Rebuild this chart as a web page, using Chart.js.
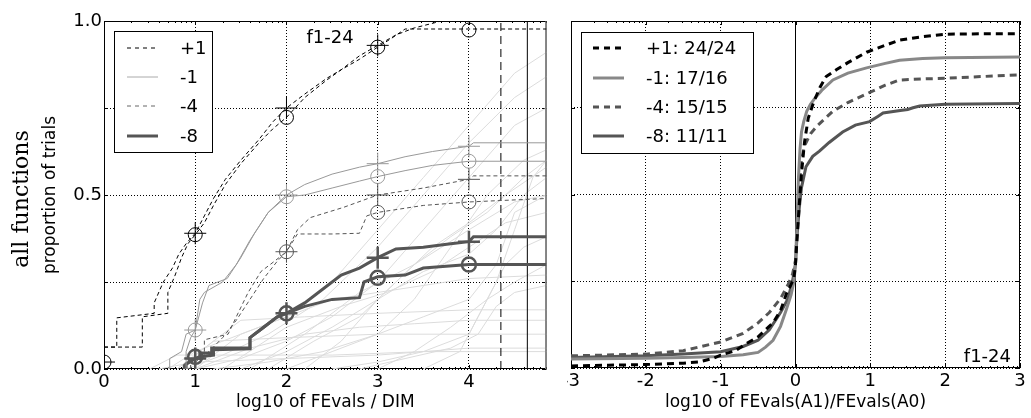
<!DOCTYPE html>
<html>
<head>
<meta charset="utf-8">
<script src="https://cdn.jsdelivr.net/npm/chart.js@4.4.0/dist/chart.umd.min.js"></script>
<title>ECDF f1-24</title>
<style>
body { margin:0; background:#fff; }
#left { position:absolute; left:0; top:0; }
#right { position:absolute; left:567px; top:0; }
</style>
</head>
<body>
<canvas id="left" width="560" height="418"></canvas>
<canvas id="right" width="464" height="418"></canvas>
<script>
// ---- left panel: ECDF of run lengths, two algorithms per target ----
var markX = [0, 1, 2, 3, 4];

var p1oX = [0, 0.42, 0.42, 0.7, 0.7, 0.78, 0.85, 0.92, 1, 1.1, 1.2, 1.33, 1.5, 1.7, 1.85, 2, 2.2, 2.44, 2.6, 2.8, 3, 3.15, 3.3, 4.85];
var p1oY = [0.063, 0.063, 0.15, 0.16, 0.22, 0.27, 0.32, 0.36, 0.386, 0.42, 0.47, 0.53, 0.59, 0.65, 0.69, 0.723, 0.78, 0.83, 0.86, 0.89, 0.925, 0.95, 0.977, 0.977];
var p1pX = [0, 0.14, 0.14, 0.55, 0.55, 0.65, 0.75, 0.82, 0.9, 1, 1.1, 1.2, 1.33, 1.5, 1.7, 1.85, 2, 2.2, 2.44, 2.6, 2.8, 3, 3.2, 3.4, 3.7, 4.85];
var p1pY = [0.063, 0.063, 0.147, 0.16, 0.19, 0.25, 0.29, 0.33, 0.36, 0.39, 0.44, 0.49, 0.545, 0.6, 0.66, 0.71, 0.75, 0.79, 0.835, 0.86, 0.9, 0.93, 0.96, 0.98, 1.0, 1.0];

var m1oX = [0.9, 0.9, 0.95, 1, 1.08, 1.15, 1.35, 1.5, 1.65, 1.8, 2, 2.2, 2.5, 2.8, 3, 3.3, 3.6, 4, 4.85];
var m1oY = [0, 0.05, 0.09, 0.112, 0.19, 0.24, 0.26, 0.32, 0.39, 0.45, 0.495, 0.5, 0.52, 0.54, 0.553, 0.57, 0.585, 0.597, 0.597];
var m1pX = [0.72, 0.72, 0.85, 0.9, 1, 1.05, 1.1, 1.3, 1.45, 1.6, 1.8, 2, 2.2, 2.5, 2.8, 3, 3.3, 3.6, 4, 4.05, 4.85];
var m1pY = [0, 0.03, 0.05, 0.1, 0.112, 0.2, 0.22, 0.25, 0.3, 0.37, 0.45, 0.5, 0.53, 0.56, 0.58, 0.59, 0.61, 0.625, 0.64, 0.65, 0.65];

var m4oX = [1.0, 1.0, 1.15, 1.3, 1.45, 1.6, 1.75, 1.9, 2, 2.12, 2.5, 2.8, 2.88, 3, 3.5, 4, 4.85];
var m4oY = [0, 0.02, 0.05, 0.09, 0.14, 0.2, 0.26, 0.31, 0.337, 0.388, 0.388, 0.39, 0.44, 0.45, 0.47, 0.48, 0.49];
var m4pX = [0.95, 0.95, 1.1, 1.1, 1.36, 1.45, 1.58, 1.72, 1.87, 2, 2.12, 2.26, 2.62, 3, 3.5, 4, 4.05, 4.85];
var m4pY = [0, 0.03, 0.04, 0.084, 0.1, 0.15, 0.22, 0.28, 0.31, 0.337, 0.40, 0.435, 0.464, 0.50, 0.52, 0.545, 0.555, 0.555];

var m8oX = [0.9, 0.9, 1, 1.05, 1.2, 1.2, 1.6, 1.6, 1.75, 1.9, 2, 2.2, 2.5, 2.8, 2.85, 3, 3.3, 3.5, 4, 4.85];
var m8oY = [0, 0.015, 0.03, 0.035, 0.04, 0.055, 0.058, 0.09, 0.12, 0.15, 0.16, 0.18, 0.2, 0.205, 0.25, 0.265, 0.27, 0.29, 0.30, 0.30];
var m8pX = [0.88, 0.88, 1, 1.05, 1.05, 1.18, 1.18, 1.6, 1.6, 1.7, 1.8, 1.9, 2, 2.2, 2.4, 2.6, 2.8, 3, 3.2, 3.5, 3.8, 4, 4.05, 4.85];
var m8pY = [0, 0.01, 0.03, 0.03, 0.046, 0.046, 0.06, 0.06, 0.09, 0.11, 0.13, 0.15, 0.16, 0.19, 0.23, 0.27, 0.29, 0.32, 0.345, 0.35, 0.36, 0.366, 0.38, 0.38];

// marker values at log10(FEvals/DIM) = 0..4 (null = not shown)
var p1oMarks = [0.02, 0.386, 0.723, 0.925, 0.974];
var p1pMarks = [0.02, 0.39, 0.75, 0.93, null];
var m1oMarks = [null, 0.112, 0.495, 0.553, 0.597];
var m1pMarks = [null, 0.112, 0.50, 0.59, 0.64];
var m4oMarks = [null, null, 0.337, 0.45, 0.48];
var m4pMarks = [null, null, 0.337, 0.50, 0.545];
var m8oMarks = [null, 0.035, 0.16, 0.262, 0.30];
var m8pMarks = [null, 0.03, 0.16, 0.32, 0.366];

// single-function ECDFs in the background
var bgX = [
  [0.7, 1.0, 1.5, 2.0, 2.5, 3.0, 3.5, 4.0, 4.5, 4.85],
  [0.9, 1.3, 1.8, 2.4, 3.0, 3.5, 4.0, 4.5, 4.85],
  [1.0, 1.5, 2.0, 2.5, 3.0, 3.5, 4.0, 4.5, 4.85],
  [1.2, 1.8, 2.4, 3.0, 3.4, 3.8, 4.2, 4.6, 4.85],
  [0.8, 1.2, 2.0, 3.0, 4.0, 4.85],
  [0.5, 0.8, 1.5, 2.5, 3.5, 4.85],
  [1.5, 2.0, 2.5, 3.0, 3.5, 4.0, 4.3, 4.6, 4.85],
  [2.0, 2.5, 3.0, 3.5, 4.0, 4.3, 4.5, 4.85],
  [2.5, 3.0, 3.5, 4.0, 4.2, 4.4, 4.6, 4.85],
  [1.0, 1.5, 2.0, 2.5, 3.0, 3.5, 4.0, 4.85],
  [1.8, 2.3, 2.8, 3.2, 3.6, 4.0, 4.4, 4.85],
  [0.6, 1.0, 2.0, 3.0, 3.5, 4.0, 4.85],
  [3.0, 3.4, 3.8, 4.2, 4.5, 4.85],
  [1.3, 2.0, 2.6, 3.1, 3.6, 4.0, 4.4, 4.85],
  [2.2, 2.6, 3.0, 3.4, 3.8, 4.2, 4.6, 4.85],
  [0.8, 1.5, 2.2, 3.0, 4.0, 4.85],
  [3.5, 3.9, 4.1, 4.3, 4.5, 4.7, 4.85],
  [1.6, 2.2, 2.8, 3.4, 4.0, 4.5, 4.85],
  [1.0, 1.6, 2.2, 2.8, 3.4, 4.0, 4.85],
  [2.8, 3.3, 3.8, 4.1, 4.3, 4.5, 4.85]
];
var bgY = [
  [0, 0.05, 0.1, 0.15, 0.25, 0.4, 0.55, 0.7, 0.85, 0.91],
  [0, 0.04, 0.1, 0.2, 0.35, 0.5, 0.65, 0.78, 0.84],
  [0, 0.03, 0.08, 0.15, 0.25, 0.4, 0.55, 0.7, 0.75],
  [0, 0.02, 0.05, 0.1, 0.2, 0.35, 0.5, 0.6, 0.63],
  [0, 0.08, 0.09, 0.1, 0.1, 0.1],
  [0, 0.04, 0.04, 0.04, 0.05, 0.05],
  [0, 0.05, 0.12, 0.2, 0.28, 0.33, 0.4, 0.5, 0.55],
  [0, 0.05, 0.1, 0.15, 0.2, 0.3, 0.45, 0.5],
  [0, 0.02, 0.05, 0.1, 0.2, 0.3, 0.35, 0.38],
  [0, 0.1, 0.15, 0.2, 0.22, 0.24, 0.26, 0.27],
  [0, 0.08, 0.15, 0.25, 0.35, 0.42, 0.5, 0.58],
  [0, 0.02, 0.03, 0.04, 0.05, 0.06, 0.06],
  [0, 0.05, 0.12, 0.2, 0.25, 0.3],
  [0, 0.12, 0.18, 0.22, 0.28, 0.35, 0.42, 0.45],
  [0, 0.08, 0.2, 0.3, 0.38, 0.45, 0.55, 0.6],
  [0, 0.14, 0.15, 0.16, 0.17, 0.17],
  [0, 0.05, 0.15, 0.25, 0.4, 0.55, 0.6],
  [0, 0.1, 0.22, 0.3, 0.4, 0.48, 0.5],
  [0, 0.06, 0.1, 0.12, 0.13, 0.14, 0.14],
  [0, 0.03, 0.06, 0.1, 0.18, 0.22, 0.24]
];

var vLineX = [4.35, 4.64, 4.85];   // budget lines

// ---- right panel: ECDF of log10 run-length ratios ----
var r1X = [-3, -2.5, -2, -1.5, -1.3, -1.1, -1, -0.8, -0.66, -0.5, -0.4, -0.3, -0.2, -0.12, -0.06, -0.02, 0, 0.02, 0.05, 0.08, 0.12, 0.17, 0.25, 0.33, 0.41, 0.55, 0.7, 0.95, 1.2, 1.39, 1.7, 2, 2.5, 3];
var r1Y = [0.006, 0.008, 0.01, 0.014, 0.017, 0.028, 0.037, 0.05, 0.07, 0.09, 0.11, 0.13, 0.165, 0.215, 0.24, 0.26, 0.3, 0.37, 0.47, 0.56, 0.65, 0.72, 0.77, 0.81, 0.84, 0.86, 0.88, 0.91, 0.93, 0.945, 0.955, 0.962, 0.963, 0.963];
var rm1X = [-3, -2, -1.5, -1, -0.7, -0.5, -0.4, -0.3, -0.2, -0.12, -0.06, -0.02, 0, 0.02, 0.04, 0.06, 0.08, 0.11, 0.15, 0.2, 0.25, 0.35, 0.5, 0.7, 0.95, 1.2, 1.39, 1.7, 2, 3];
var rm1Y = [0.026, 0.028, 0.03, 0.033, 0.038, 0.045, 0.06, 0.08, 0.12, 0.17, 0.21, 0.25, 0.3, 0.42, 0.55, 0.63, 0.68, 0.71, 0.74, 0.76, 0.775, 0.8, 0.83, 0.85, 0.865, 0.878, 0.887, 0.892, 0.894, 0.896];
var rm4X = [-3, -2, -1.5, -1, -0.7, -0.5, -0.35, -0.2, -0.1, -0.04, 0, 0.02, 0.05, 0.08, 0.12, 0.2, 0.3, 0.5, 0.7, 0.95, 1.2, 1.39, 1.7, 2, 3];
var rm4Y = [0.035, 0.04, 0.05, 0.075, 0.1, 0.13, 0.16, 0.2, 0.24, 0.27, 0.31, 0.4, 0.52, 0.6, 0.64, 0.675, 0.7, 0.74, 0.765, 0.79, 0.815, 0.83, 0.833, 0.835, 0.845];
var rm8X = [-3, -2, -1.5, -1, -0.7, -0.5, -0.35, -0.2, -0.1, -0.04, 0, 0.02, 0.05, 0.08, 0.14, 0.23, 0.32, 0.45, 0.63, 0.8, 0.99, 1.1, 1.17, 1.4, 1.5, 1.57, 1.66, 2, 3];
var rm8Y = [0.03, 0.035, 0.04, 0.047, 0.062, 0.08, 0.11, 0.16, 0.2, 0.25, 0.3, 0.38, 0.46, 0.52, 0.58, 0.61, 0.625, 0.65, 0.68, 0.7, 0.71, 0.725, 0.735, 0.742, 0.745, 0.75, 0.755, 0.76, 0.762];

var targets = ['+1', '-1', '-4', '-8'];
var ratioLabels = ['+1: 24/24', '-1: 17/16', '-4: 15/15', '-8: 11/11'];

var FONT = 'DejaVu Sans';

function pts(xs, ys) {
    return xs.map(function(x, i) { return {x: x, y: ys[i]}; });
}
function marks(ys) {
    return markX.map(function(x, i) { return {x: x, y: ys[i]}; })
                .filter(function(p) { return p.y !== null; });
}
function curve(xs, ys, color, width, dash, order) {
    return {data: pts(xs, ys), showLine: true, borderColor: color, borderWidth: width,
            borderDash: dash || [], pointRadius: 0, tension: 0, order: order || 1};
}
function markSet(ys, style, color, width) {
    return {data: marks(ys), showLine: false, pointStyle: style,
            pointRadius: style === 'cross' ? 11 : 7, pointBorderColor: color,
            pointBackgroundColor: 'rgba(0,0,0,0)', pointBorderWidth: width, order: 0};
}

// frame + inward ticks, like a matplotlib axes
function framePlugin(minorFrom, minorTo) {
    return {
        id: 'frame',
        beforeDatasetsDraw: function(chart) {
            var a = chart.chartArea, c = chart.ctx;
            c.save();
            c.strokeStyle = '#000';
            c.lineWidth = 1;
            c.strokeRect(a.left + 0.5, a.top + 0.5, a.right - a.left - 1, a.bottom - a.top - 1);
            var xs = chart.scales.x, ys = chart.scales.y;
            c.beginPath();
            xs.ticks.forEach(function(t) {
                var px = Math.round(xs.getPixelForValue(t.value)) + 0.5;
                c.moveTo(px, a.bottom); c.lineTo(px, a.bottom - 4);
                c.moveTo(px, a.top); c.lineTo(px, a.top + 4);
            });
            for (var n = minorFrom; n <= minorTo; n++) {
                for (var k = 2; k <= 9; k++) {
                    var v = n + Math.log10(k);
                    if (v > xs.max) continue;
                    var px = Math.round(xs.getPixelForValue(v)) + 0.5;
                    c.moveTo(px, a.bottom); c.lineTo(px, a.bottom - 2);
                    c.moveTo(px, a.top); c.lineTo(px, a.top + 2);
                }
            }
            ys.ticks.forEach(function(t) {
                var py = Math.round(ys.getPixelForValue(t.value)) + 0.5;
                c.moveTo(a.left, py); c.lineTo(a.left + 4, py);
                c.moveTo(a.right, py); c.lineTo(a.right - 4, py);
            });
            c.stroke();
            c.restore();
        }
    };
}

function legendPlugin(box, entries, labels, extra) {
    return {
        id: 'boxlegend',
        afterDraw: function(chart) {
            var c = chart.ctx;
            c.save();
            c.fillStyle = '#fff';
            c.fillRect(box.x, box.y, box.w, box.h);
            c.strokeStyle = '#000';
            c.lineWidth = 1;
            c.strokeRect(box.x + 0.5, box.y + 0.5, box.w, box.h);
            entries.forEach(function(e, i) {
                var y = box.rows[i];
                c.beginPath();
                c.strokeStyle = e.color;
                c.lineWidth = e.width;
                c.setLineDash(e.dash);
                c.moveTo(box.lx0, y); c.lineTo(box.lx1, y);
                c.stroke();
                c.setLineDash([]);
                c.fillStyle = '#000';
                c.font = '18px "' + FONT + '"';
                c.textAlign = 'left';
                c.textBaseline = 'middle';
                c.fillText(labels[i], box.tx, y + 1);
            });
            if (extra) extra(c);
            c.restore();
        }
    };
}

var leftDatasets = [
    curve(p1oX, p1oY, '#000', 1, [4, 3]),
    curve(p1pX, p1pY, '#000', 1, [4, 3]),
    curve(m1oX, m1oY, '#999', 1),
    curve(m1pX, m1pY, '#999', 1),
    curve(m4oX, m4oY, '#555', 1, [4, 3]),
    curve(m4pX, m4pY, '#555', 1, [4, 3]),
    curve(m8oX, m8oY, '#555', 3),
    curve(m8pX, m8pY, '#555', 3),
    markSet(p1oMarks, 'circle', '#000', 1),
    markSet(p1pMarks, 'cross', '#000', 1),
    markSet(m1oMarks, 'circle', '#999', 1),
    markSet(m1pMarks, 'cross', '#999', 1),
    markSet(m4oMarks, 'circle', '#555', 1),
    markSet(m4pMarks, 'cross', '#555', 1),
    markSet(m8oMarks, 'circle', '#555', 2.5),
    markSet(m8pMarks, 'cross', '#555', 2.5),
    curve([vLineX[0], vLineX[0]], [0, 1], '#000', 1, [8, 5], 2),
    curve([vLineX[1], vLineX[1]], [0, 1], '#000', 1, [], 2),
    curve([vLineX[2], vLineX[2]], [0, 1], '#888', 3, [], 2)
];
bgX.forEach(function(xs, i) {
    leftDatasets.push(curve(xs, bgY[i], '#dcdcdc', 1, [], 10));
});

var tickFont = {family: FONT, size: 18};
var titleFont = {family: FONT, size: 17};

new Chart(document.getElementById('left'), {
    type: 'scatter',
    data: {datasets: leftDatasets},
    options: {
        responsive: false, animation: false, events: [],
        layout: {padding: {top: 21, right: 7, bottom: 0, left: 0}},
        plugins: {legend: {display: false}, tooltip: {enabled: false}},
        scales: {
            x: {
                type: 'linear', min: 0, max: 4.85,
                ticks: {stepSize: 1, includeBounds: false, color: '#000', font: tickFont, padding: 3, maxRotation: 0},
                grid: {color: '#000', lineWidth: 1, drawTicks: false},
                border: {display: false, dash: [1, 2]},
                title: {display: true, text: 'log10 of FEvals / DIM', color: '#000', font: titleFont, padding: {top: 0, bottom: 5}},
                afterFit: function(s) { s.height = 49; s.paddingLeft = 0; s.paddingRight = 0; }
            },
            y: {
                min: 0, max: 1,
                ticks: {
                    stepSize: 0.25, color: '#000', font: tickFont, padding: 2,
                    callback: function(v) { return Math.abs(v * 2 - Math.round(v * 2)) < 1e-9 ? v.toFixed(1) : ''; }
                },
                grid: {color: '#000', lineWidth: 1, drawTicks: false},
                border: {display: false, dash: [1, 2]},
                title: {display: true, text: 'proportion of trials', color: '#000', font: titleFont, padding: {top: 40, bottom: 0}},
                afterFit: function(s) { s.width = 104; s.paddingTop = 0; s.paddingBottom = 0; }
            }
        }
    },
    plugins: [
        framePlugin(0, 4),
        legendPlugin(
            {x: 114, y: 31, w: 98, h: 121, lx0: 127, lx1: 158, tx: 180, rows: [48, 77, 106, 136]},
            [{color: '#000', width: 1, dash: [4, 4]}, {color: '#aaa', width: 1, dash: []},
             {color: '#666', width: 1, dash: [4, 4]}, {color: '#555', width: 3, dash: []}],
            targets,
            function(c) {
                c.fillStyle = '#000';
                c.font = '18px "' + FONT + '"';
                c.textAlign = 'center';
                c.fillText('f1-24', 330, 38);
                c.save();
                c.translate(22, 199);
                c.rotate(-Math.PI / 2);
                c.font = '22px "DejaVu Serif"';
                c.fillText('all functions', 0, 0);
                c.restore();
            }
        )
    ]
});

new Chart(document.getElementById('right'), {
    type: 'scatter',
    data: {
        datasets: [
            curve(r1X, r1Y, '#000', 3, [7, 5]),
            curve(rm1X, rm1Y, '#888', 3),
            curve(rm4X, rm4Y, '#555', 3, [7, 5]),
            curve(rm8X, rm8Y, '#555', 3),
            curve([0, 0], [0, 1], '#000', 1, [], 5)
        ]
    },
    options: {
        responsive: false, animation: false, events: [],
        layout: {padding: {top: 21, right: 11, bottom: 0, left: 0}},
        plugins: {legend: {display: false}, tooltip: {enabled: false}},
        scales: {
            x: {
                type: 'linear', min: -3, max: 3,
                ticks: {stepSize: 1, includeBounds: false, color: '#000', font: tickFont, padding: 3, maxRotation: 0},
                grid: {color: '#000', lineWidth: 1, drawTicks: false},
                border: {display: false, dash: [1, 2]},
                title: {display: true, text: 'log10 of FEvals(A1)/FEvals(A0)', color: '#000', font: titleFont, padding: {top: 0, bottom: 5}},
                afterFit: function(s) { s.height = 50; s.paddingLeft = 0; s.paddingRight = 0; }
            },
            y: {
                min: 0, max: 1,
                ticks: {stepSize: 0.25, display: false},
                grid: {color: '#000', lineWidth: 1, drawTicks: false},
                border: {display: false, dash: [1, 2]},
                afterFit: function(s) { s.width = 4; s.paddingTop = 0; s.paddingBottom = 0; }
            }
        }
    },
    plugins: [
        framePlugin(-3, 2),
        legendPlugin(
            {x: 14, y: 32, w: 172, h: 121, lx0: 26, lx1: 57, tx: 79, rows: [48, 78, 107, 136]},
            [{color: '#000', width: 3, dash: [6, 5]}, {color: '#888', width: 3, dash: []},
             {color: '#555', width: 3, dash: [6, 5]}, {color: '#555', width: 3, dash: []}],
            ratioLabels,
            function(c) {
                c.fillStyle = '#000';
                c.font = '18px "' + FONT + '"';
                c.textAlign = 'right';
                c.fillText('f1-24', 444, 357);
            }
        )
    ]
});
</script>
</body>
</html>
